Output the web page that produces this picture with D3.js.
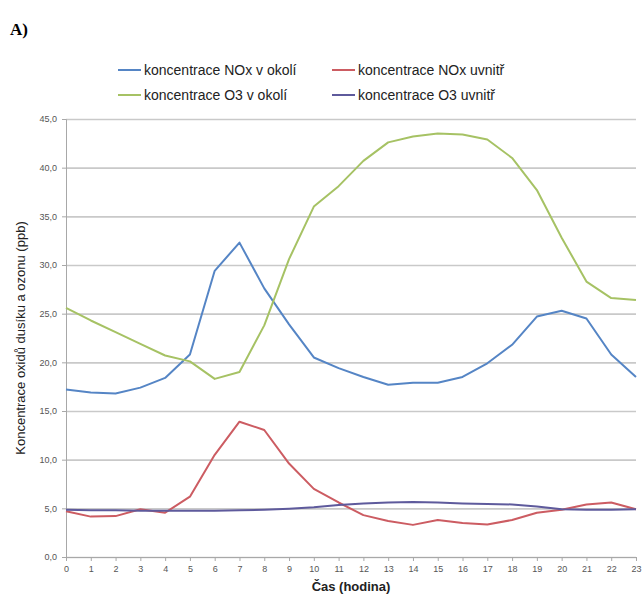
<!DOCTYPE html>
<html>
<head>
<meta charset="utf-8">
<script src="https://cdn.jsdelivr.net/npm/d3@7"></script>
<style>
  body { margin: 0; background: #fff; }
  svg { display: block; }
</style>
</head>
<body>
<div id="chart"></div>
<script>
// hours 0..23
const hours = d3.range(0, 24);

// (ppb)
const noxOutside = [17.2, 16.9, 16.8, 17.4, 18.4, 20.8, 29.4, 32.3, 27.6, 23.9, 20.5, 19.4, 18.5, 17.7, 17.9, 17.9, 18.5, 19.9, 21.8, 24.7, 25.3, 24.5, 20.8, 18.5];
const noxInside = [4.7, 4.15, 4.2, 4.9, 4.55, 6.2, 10.5, 13.9, 13.05, 9.6, 7.0, 5.6, 4.3, 3.7, 3.3, 3.8, 3.5, 3.35, 3.8, 4.55, 4.85, 5.4, 5.6, 4.9];
const o3Outside = [25.6, 24.3, 23.1, 21.9, 20.7, 20.1, 18.3, 19.0, 23.8, 30.6, 36.0, 38.1, 40.7, 42.6, 43.2, 43.5, 43.4, 42.9, 41.0, 37.7, 32.8, 28.3, 26.6, 26.4];
const o3Inside = [4.85, 4.8, 4.8, 4.75, 4.75, 4.75, 4.75, 4.8, 4.85, 4.95, 5.1, 5.35, 5.5, 5.6, 5.65, 5.6, 5.5, 5.45, 5.4, 5.2, 4.9, 4.85, 4.85, 4.9];

const yTicks = d3.range(0, 46, 5);

const series = [
  { name: "koncentrace NOx v okolí", values: noxOutside, color: "#5585c5" },
  { name: "koncentrace NOx uvnitř", values: noxInside, color: "#cc5c62" },
  { name: "koncentrace O3 v okolí", values: o3Outside, color: "#a6c264" },
  { name: "koncentrace O3 uvnitř", values: o3Inside, color: "#5e5a9c" }
];

const W = 643, H = 600;
const margin = { top: 119, right: 7, bottom: 43, left: 66 };

const svg = d3.select("#chart").append("svg")
  .attr("width", W)
  .attr("height", H)
  .style("font-family", "'Liberation Sans', Arial, sans-serif");

const x = d3.scaleLinear().domain([0, 23]).range([margin.left, W - margin.right]);
const y = d3.scaleLinear().domain([0, 45]).range([H - margin.bottom, margin.top]);

// panel label
svg.append("text")
  .attr("x", 10)
  .attr("y", 35)
  .style("font-family", "'Liberation Serif', 'Times New Roman', serif")
  .style("font-weight", "bold")
  .style("font-size", "17px")
  .text("A)");

// horizontal gridlines
svg.append("g")
  .attr("transform", `translate(${margin.left},0)`)
  .call(d3.axisLeft(y).tickValues(yTicks).tickSize(-(x(23) - x(0))).tickFormat(""))
  .call(g => g.select(".domain").remove())
  .selectAll("line")
  .attr("stroke", "#c9c9c9")
  .attr("stroke-width", 1.6);

// y axis
svg.append("g")
  .attr("transform", `translate(${margin.left},0)`)
  .call(d3.axisLeft(y).tickValues(yTicks).tickSize(4).tickPadding(5)
    .tickFormat(d => d3.format(".1f")(d).replace(".", ",")))
  .call(g => g.select(".domain").attr("stroke", "#a8a8a8"))
  .call(g => g.selectAll(".tick line").attr("stroke", "#a8a8a8"))
  .call(g => g.selectAll(".tick text").style("font-size", "9px").attr("fill", "#555"));

// x axis
svg.append("g")
  .attr("transform", `translate(0,${y(0)})`)
  .call(d3.axisBottom(x).tickValues(hours).tickSize(4).tickPadding(5).tickSizeOuter(0))
  .call(g => g.select(".domain").attr("stroke", "#a8a8a8"))
  .call(g => g.selectAll(".tick line").attr("stroke", "#a8a8a8"))
  .call(g => g.selectAll(".tick text").style("font-size", "9px").attr("fill", "#555"));

// axis titles
svg.append("text")
  .attr("transform", `translate(25,${(y(0) + y(45)) / 2}) rotate(-90)`)
  .attr("text-anchor", "middle")
  .style("font-size", "13px")
  .attr("fill", "#222")
  .text("Koncentrace oxidů dusíku a ozonu (ppb)");

svg.append("text")
  .attr("x", (x(0) + x(23)) / 2)
  .attr("y", 591)
  .attr("text-anchor", "middle")
  .style("font-size", "13px")
  .style("font-weight", "bold")
  .attr("fill", "#222")
  .text("Čas (hodina)");

// lines
const line = d3.line()
  .x((d, i) => x(hours[i]))
  .y(d => y(d));

series.forEach(s => {
  svg.append("path")
    .datum(s.values)
    .attr("fill", "none")
    .attr("stroke", s.color)
    .attr("stroke-width", 2)
    .attr("stroke-linejoin", "round")
    .attr("d", line);
});

// legend, 2 x 2
const legendPos = [[118, 70], [332, 70], [118, 95], [332, 95]];
series.forEach((s, i) => {
  const g = svg.append("g").attr("transform", `translate(${legendPos[i][0]},${legendPos[i][1]})`);
  g.append("line")
    .attr("x1", 0).attr("x2", 23)
    .attr("y1", 0).attr("y2", 0)
    .attr("stroke", s.color)
    .attr("stroke-width", 2);
  g.append("text")
    .attr("x", 26)
    .attr("y", 0)
    .attr("dy", "0.35em")
    .style("font-size", "14px")
    .attr("fill", "#222")
    .text(s.name);
});
</script>
</body>
</html>
